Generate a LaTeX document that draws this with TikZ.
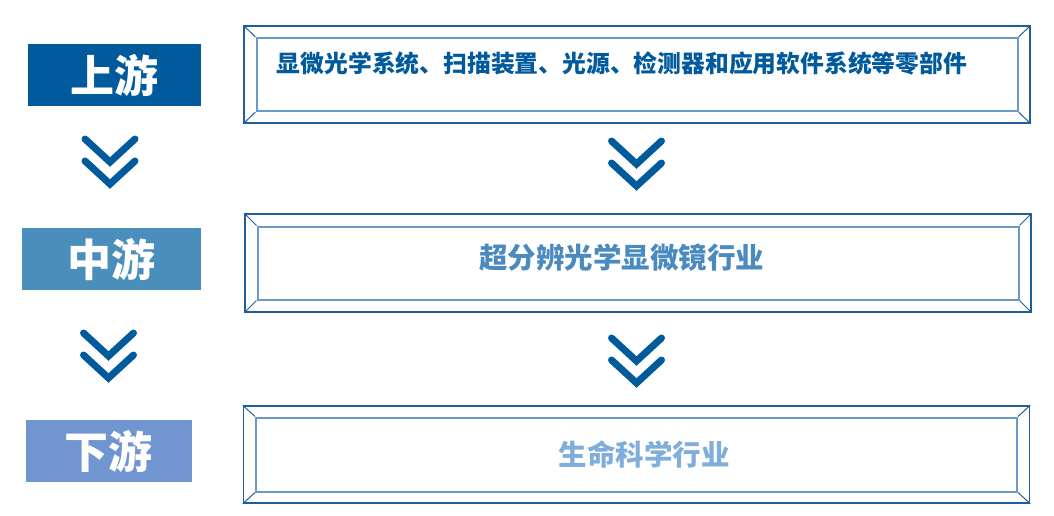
\documentclass[tikz,border=0pt]{standalone}
\usepackage{fontspec}
\newfontfamily\cjk{Noto Sans CJK SC}
\usetikzlibrary{positioning}
\definecolor{updark}{HTML}{005A9C}
\definecolor{midblue}{HTML}{4A8EBB}
\definecolor{lowblue}{HTML}{7095D0}
\definecolor{framedark}{HTML}{1F5F99}
\definecolor{framelight}{HTML}{6A9AC8}
\definecolor{midtext}{HTML}{4A8ABF}
\definecolor{lowtext}{HTML}{80AEDB}
\begin{document}
\begin{tikzpicture}[x=1pt,y=-1pt,
  stage/.style={inner sep=0pt, text=white, font=\cjk\bfseries\fontsize{44}{44}\selectfont},
  outerbox/.style={draw=framedark, line width=1.5pt, inner sep=0pt, minimum width=786pt},
  innerbox/.style={draw=framelight, line width=2pt, inner sep=0pt, minimum width=761pt},
  bevel/.style={draw=framedark, line width=1pt},
  chev/.style={draw=updark, line width=7pt, line cap=round, line join=miter}]
\useasboundingbox (0,0) rectangle (1054,515);
% left labels
\node[stage, fill=updark, minimum width=173pt, minimum height=62pt] (up) at (114.5,75) {上游};
\node[stage, fill=midblue, minimum width=179pt, minimum height=62pt] (mid) at (111.5,259) {中游};
\node[stage, fill=lowblue, minimum width=166pt, minimum height=62pt] (low) at (108.5,451) {下游};
% frames
\node[outerbox, minimum height=97pt] (upbox) at (637,74.5) {};
\node[innerbox, minimum height=73pt] (upin) at (637,74.5) {};
\node[outerbox, minimum height=98pt] (midbox) at (638,263) {};
\node[innerbox, minimum height=73pt] (midin) at (638,263) {};
\node[outerbox, minimum height=97pt] (lowbox) at (636.5,454.5) {};
\node[innerbox, minimum height=74pt] (lowin) at (636.5,454.5) {};
\foreach \b in {up,mid,low}{
  \draw[bevel] (\b box.north west) -- (\b in.north west);
  \draw[bevel] (\b box.north east) -- (\b in.north east);
  \draw[bevel] (\b box.south west) -- (\b in.south west);
  \draw[bevel] (\b box.south east) -- (\b in.south east);
}
% texts
\node[inner sep=0pt, text=updark, font=\cjk\bfseries\fontsize{23.8}{24}\selectfont] (uptext) at (622,63) {显微光学系统、扫描装置、光源、检测器和应用软件系统等零部件};
\node[inner sep=0pt, text=midtext, font=\cjk\bfseries\fontsize{28.5}{29}\selectfont] (midtext) at (621.5,258) {超分辨光学显微镜行业};
\node[inner sep=0pt, text=lowtext, font=\cjk\bfseries\fontsize{28.5}{29}\selectfont] (lowtext) at (644,454) {生命科学行业};
% chevrons
\foreach \cx/\cy in {110/139, 108.5/333, 636.5/141, 636.5/338}{
  \draw[chev] (\cx-25,\cy) -- (\cx,\cy+23) -- (\cx+25,\cy);
  \draw[chev] (\cx-25,\cy+22) -- (\cx,\cy+45) -- (\cx+25,\cy+22);
}
\end{tikzpicture}
\end{document}
